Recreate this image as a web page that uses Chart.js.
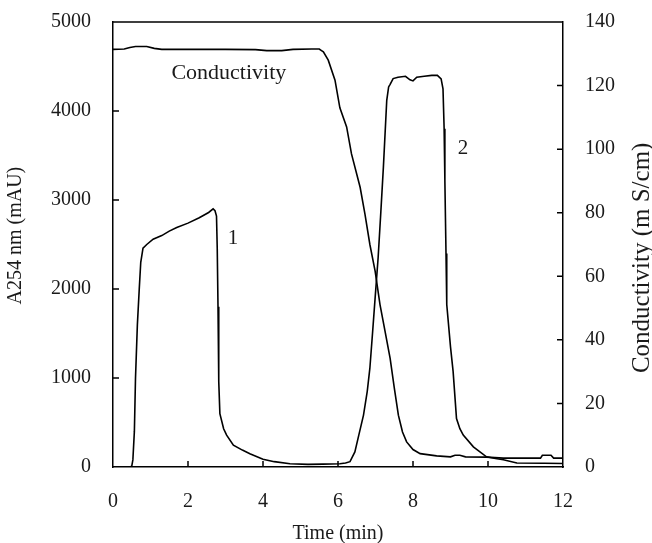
<!DOCTYPE html>
<html>
<head>
<meta charset="utf-8">
<script src="https://cdn.jsdelivr.net/npm/chart.js@4/dist/chart.umd.min.js"></script>
<style>
  body { margin: 0; background: #fff; }
  #wrap { width: 652px; height: 543px; position: relative; }
</style>
</head>
<body>
<div id="wrap"><canvas id="chrom"></canvas></div>
<script>
// A254 trace (left axis, mAU)
const timeA = [0, 0.45, 0.5, 0.53, 0.57, 0.6, 0.65, 0.7, 0.74, 0.8, 0.9, 1.07, 1.3, 1.5, 1.7, 2.0, 2.3, 2.55, 2.67, 2.72, 2.76,
  2.78, 2.8, 2.82, 2.85, 2.95, 3.03, 3.21, 3.45, 3.65, 4.0, 4.3, 4.72, 5.2, 5.6, 6.05, 6.2, 6.32, 6.45, 6.55, 6.68, 6.78,
  6.85, 6.92, 6.99, 7.07, 7.14, 7.21, 7.3, 7.35, 7.39, 7.47, 7.6, 7.8, 7.92, 8.0, 8.1, 8.3, 8.5, 8.65, 8.75, 8.8, 8.83,
  8.85, 8.88, 8.9, 9.0, 9.07, 9.16, 9.25, 9.34, 9.61, 9.96, 10.2, 10.41, 10.77, 11.5, 12];
const absA = [0, 0, 10, 80, 400, 1000, 1600, 2000, 2300, 2460, 2500, 2560, 2600, 2650, 2690, 2740, 2800, 2860, 2900, 2880, 2820,
  2450, 1800, 960, 600, 430, 358, 245, 190, 150, 87, 60, 37, 30, 32, 37, 45, 60, 170, 350, 583, 850,
  1110, 1500, 1900, 2351, 2850, 3367, 4120, 4270, 4300, 4364, 4380, 4390, 4350, 4338, 4380, 4390, 4400, 4400, 4360, 4250, 3800,
  3217, 2400, 1825, 1350, 1072, 545, 430, 358, 226, 115, 95, 82, 45, 42, 40];

// Conductivity trace (right axis, mS/cm)
const timeC = [0, 0.3, 0.45, 0.6, 0.9, 1.1, 1.3, 3.0, 3.8, 4.1, 4.5, 4.8, 5.3, 5.5, 5.56, 5.61, 5.74, 5.92, 6.05, 6.23, 6.36,
  6.59, 6.72, 6.85, 6.99, 7.12, 7.25, 7.39, 7.5, 7.61, 7.72, 7.83, 8.0, 8.19, 8.63, 9.0, 9.12, 9.25, 9.4, 9.96, 10.41,
  11.4, 11.45, 11.68, 11.75, 12];
const condC = [131.4, 131.5, 132.0, 132.3, 132.3, 131.7, 131.4, 131.4, 131.3, 131.0, 131.0, 131.4, 131.5, 131.5, 131.0, 130.6, 128, 121.7, 113, 107, 98.5,
  88, 79.5, 70, 61.6, 51.1, 43, 34.2, 25, 16.3, 11, 7.9, 5.5, 4.2, 3.5, 3.2, 3.7, 3.7, 3.2, 3.1, 2.8,
  2.8, 3.7, 3.7, 2.8, 2.8];

const xTicks = [0, 2, 4, 6, 8, 10, 12];
const yTicksA = [0, 1000, 2000, 3000, 4000, 5000];
const yTicksC = [0, 20, 40, 60, 80, 100, 120, 140];

const serif = 'Liberation Serif';
const txt = '#1a1a1a';

const frame = {
  id: 'frame',
  afterDraw(chart) {
    const { ctx, chartArea: a, scales } = chart;
    ctx.save();
    ctx.strokeStyle = '#000';
    ctx.lineWidth = 1.5;
    ctx.beginPath();
    ctx.moveTo(a.left, a.top);
    ctx.lineTo(a.right, a.top);
    // inward ticks
    const len = 6;
    xTicks.slice(1, -1).forEach(v => {
      const px = scales.x.getPixelForValue(v);
      ctx.moveTo(px, a.bottom);
      ctx.lineTo(px, a.bottom - len);
    });
    yTicksA.slice(1, -1).forEach(v => {
      const py = scales.y.getPixelForValue(v);
      ctx.moveTo(a.left, py);
      ctx.lineTo(a.left + len, py);
    });
    yTicksC.slice(1, -1).forEach(v => {
      const py = scales.y2.getPixelForValue(v);
      ctx.moveTo(a.right, py);
      ctx.lineTo(a.right - len, py);
    });
    ctx.stroke();

    // labels inside the plot
    ctx.fillStyle = txt;
    ctx.textAlign = 'center';
    ctx.textBaseline = 'middle';
    ctx.font = '22px "' + serif + '"';
    ctx.fillText('Conductivity', scales.x.getPixelForValue(3.09), scales.y.getPixelForValue(4424));
    ctx.font = '21px "' + serif + '"';
    ctx.fillText('1', scales.x.getPixelForValue(3.2), scales.y.getPixelForValue(2562));
    ctx.fillText('2', scales.x.getPixelForValue(9.33), scales.y.getPixelForValue(3578));

    // axis titles
    ctx.font = '20px "' + serif + '"';
    ctx.fillText('Time (min)', (a.left + a.right) / 2, a.bottom + 67);
    ctx.save();
    ctx.translate(16, a.top + (a.bottom - a.top) * 0.48);
    ctx.rotate(-Math.PI / 2);
    ctx.fillText('A254 nm (mAU)', 0, 0);
    ctx.restore();
    ctx.font = '25px "' + serif + '"';
    ctx.save();
    ctx.translate(642, a.top + (a.bottom - a.top) * 0.53);
    ctx.rotate(-Math.PI / 2);
    ctx.fillText('Conductivity (m S/cm)', 0, 0);
    ctx.restore();
    ctx.restore();
  }
};

const tickFont = { family: serif, size: 20 };
const plain = v => String(v);
const noPad = s => { s.paddingTop = 0; s.paddingBottom = 0; };

new Chart(document.getElementById('chrom').getContext('2d'), {
  type: 'scatter',
  data: {
    datasets: [{
      label: 'A254',
      data: timeA.map((t, i) => ({ x: t, y: absA[i] })),
      yAxisID: 'y',
      showLine: true,
      borderColor: '#000',
      borderWidth: 1.6,
      pointRadius: 0,
      tension: 0
    }, {
      label: 'Conductivity',
      data: timeC.map((t, i) => ({ x: t, y: condC[i] })),
      yAxisID: 'y2',
      showLine: true,
      borderColor: '#000',
      borderWidth: 1.6,
      pointRadius: 0,
      tension: 0
    }]
  },
  options: {
    responsive: true,
    maintainAspectRatio: false,
    animation: false,
    layout: { padding: { left: 29, right: 15, top: 22, bottom: 6 } },
    plugins: { legend: { display: false }, tooltip: { enabled: false } },
    scales: {
      x: {
        type: 'linear', min: 0, max: 12,
        afterBuildTicks: s => { s.ticks = xTicks.map(v => ({ value: v })); },
        grid: { display: false, drawTicks: false },
        border: { display: true, color: '#000', width: 1.5 },
        ticks: { font: tickFont, color: txt, padding: 23, callback: plain }
      },
      y: {
        position: 'left', min: 0, max: 5000,
        afterBuildTicks: s => { s.ticks = yTicksA.map(v => ({ value: v })); },
        afterFit: noPad,
        grid: { display: false, drawTicks: false },
        border: { display: true, color: '#000', width: 1.5 },
        ticks: { font: tickFont, color: txt, padding: 22, callback: plain }
      },
      y2: {
        position: 'right', min: 0, max: 140,
        afterBuildTicks: s => { s.ticks = yTicksC.map(v => ({ value: v })); },
        afterFit: noPad,
        grid: { display: false, drawTicks: false },
        border: { display: true, color: '#000', width: 1.5 },
        ticks: { font: tickFont, color: txt, padding: 22, callback: plain }
      }
    }
  },
  plugins: [frame]
});
</script>
</body>
</html>
